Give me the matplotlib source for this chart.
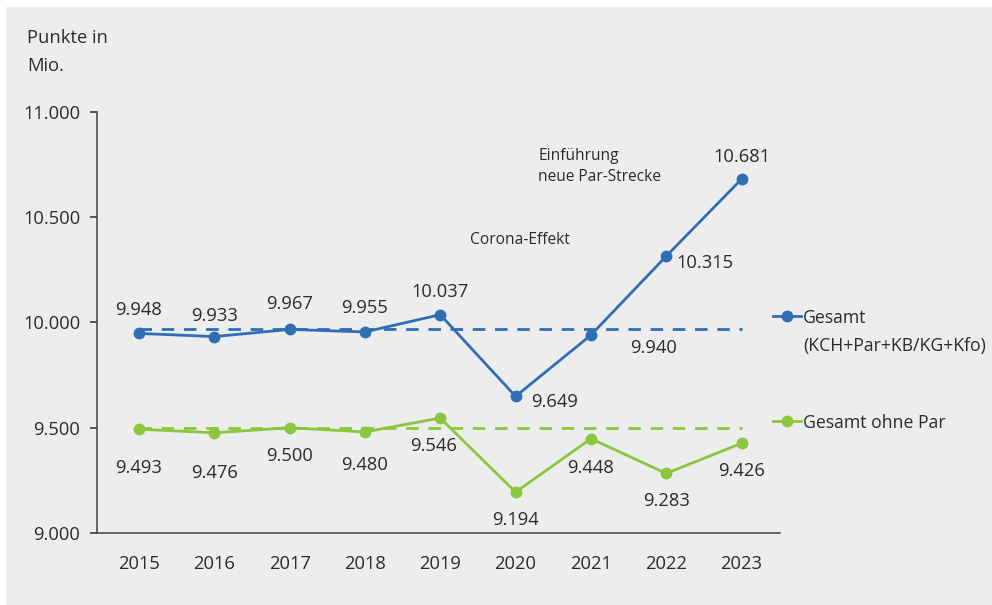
import matplotlib.pyplot as plt
from matplotlib.lines import Line2D
from matplotlib.patches import Rectangle

plt.rcParams['font.family'] = ['Open Sans', 'DejaVu Sans']

years = ['2015', '2016', '2017', '2018', '2019', '2020', '2021', '2022', '2023']
gesamt = [9.948, 9.933, 9.967, 9.955, 10.037, 9.649, 9.940, 10.315, 10.681]
ohne_par = [9.493, 9.476, 9.500, 9.480, 9.546, 9.194, 9.448, 9.283, 9.426]
# mittelwerte 2015-2019
mean_gesamt = 9.968
mean_ohne_par = 9.499
y_ticks = [9.0, 9.5, 10.0, 10.5, 11.0]

BLUE = '#2f6eb5'
GREEN = '#8cc63f'
TEXT = '#2b2b2b'
BG = '#ededed'
FS = 13.2

# label offsets in points (dx, dy)
offs_gesamt = [(0, 17), (0, 15), (0, 18), (0, 17), (0, 16), (28, -4), (45, -9), (28, -5), (0, 16)]
offs_ohne = [(0, -28), (0, -29), (0, -20), (0, -24), (-5, -20), (0, -20), (0, -21), (0, -20), (0, -20)]

fig = plt.figure(figsize=(9.92, 6.05), dpi=100)
fig.patch.set_facecolor('white')
fig.add_artist(Rectangle((6 / 992, 0), 1, 598 / 605, transform=fig.transFigure,
                         facecolor=BG, edgecolor='none', zorder=-10))

ax = fig.add_axes([0.0978, 0.119, 0.688, 0.696])
ax.set_facecolor('none')

x = list(range(len(years)))
ax.plot(x, gesamt, color=BLUE, lw=2.0, marker='o', ms=7.5, zorder=3)
ax.plot(x, ohne_par, color=GREEN, lw=2.0, marker='o', ms=7.5, zorder=3)
ax.plot([x[0], x[-1]], [mean_gesamt] * 2, color=BLUE, lw=2.0, ls=(0, (4.5, 3.5)), zorder=2)
ax.plot([x[0], x[-1]], [mean_ohne_par] * 2, color=GREEN, lw=2.0, ls=(0, (4.5, 3.5)), zorder=2)

for xi, v, (dx, dy) in zip(x, gesamt, offs_gesamt):
    ax.annotate(f'{v:.3f}', (xi, v), xytext=(dx, dy), textcoords='offset points',
                ha='center', va='center', fontsize=FS, color=TEXT)
for xi, v, (dx, dy) in zip(x, ohne_par, offs_ohne):
    ax.annotate(f'{v:.3f}', (xi, v), xytext=(dx, dy), textcoords='offset points',
                ha='center', va='center', fontsize=FS, color=TEXT)

ax.text(5.3, 10.74, 'Einführung\nneue Par-Strecke', fontsize=11.2, color=TEXT,
        ha='left', va='center', linespacing=1.45)
ax.text(4.4, 10.39, 'Corona-Effekt', fontsize=11.2, color=TEXT, ha='left', va='center')

ax.set_xlim(-0.557, 8.504)
ax.set_ylim(9.0, 11.0)
ax.set_xticks(x)
ax.set_xticklabels(years)
ax.set_yticks(y_ticks)
ax.set_yticklabels([f'{v:.3f}' for v in y_ticks])
ax.tick_params(axis='x', length=0, pad=16, labelsize=FS, colors=TEXT)
ax.tick_params(axis='y', length=5, width=1.1, pad=7, labelsize=FS, colors=TEXT)
for side in ['top', 'right']:
    ax.spines[side].set_visible(False)
for side in ['left', 'bottom']:
    ax.spines[side].set_color('#404040')
    ax.spines[side].set_linewidth(1.1)

fig.text(27 / 992, 1 - 29 / 605, 'Punkte in\nMio.', fontsize=FS, color=TEXT,
         ha='left', va='top', linespacing=1.7)

# legende rechts
def legend_entry(y_px, color, label):
    yf = 1 - y_px / 605
    fig.add_artist(Line2D([773 / 992, 801 / 992], [yf, yf], transform=fig.transFigure,
                          color=color, lw=2.0))
    fig.add_artist(Line2D([787 / 992], [yf], transform=fig.transFigure, color=color,
                          marker='o', ms=7.5))
    fig.text(803 / 992, yf + 7 / 605, label, fontsize=12.7, color=TEXT,
             ha='left', va='top', linespacing=1.7)

legend_entry(316, BLUE, 'Gesamt\n(KCH+Par+KB/KG+Kfo)')
legend_entry(421, GREEN, 'Gesamt ohne Par')

fig.savefig('out.png', dpi=100, facecolor=fig.get_facecolor())
